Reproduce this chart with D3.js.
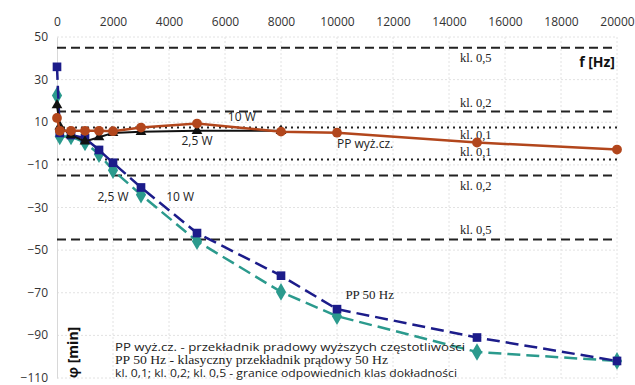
<!DOCTYPE html>
<html>
<head>
<meta charset="utf-8">
<script src="https://cdn.jsdelivr.net/npm/d3@7"></script>
<style>
  body { margin: 0; background: #fff; }
  svg { display: block; }
  .tick text { font-family: "Open Sans", "Liberation Sans", sans-serif; font-size: 12px; fill: #333; }
</style>
</head>
<body>
<div id="chart"></div>
<script>
// frequencies [Hz]
const freq = [0, 100, 500, 1000, 1500, 2000, 3000, 5000, 8000, 10000, 15000, 20000];
// phase error [min]
const hfTen = [12, 6, 6, 6, 6, 5.8, 7.5, 9.4, 5.6, 5.1, 0.5, -2.8];     // PP wyż.cz. 10 W
const hfTwo = [18, 8, 4, 1, 3, 5, 5.5, 6, 6];                           // PP wyż.cz. 2,5 W
const lfTen = [36, 5, 4, 2.5, -3, -9, -20.6, -42, -62, -77.7, -91, -102]; // PP 50 Hz 10 W
const lfTwo = [22.5, 3.3, 3.3, 0.5, -5, -12.5, -24, -45.8, -69.6, -81, -97.8, -102]; // PP 50 Hz 2,5 W

const xTicks = [0, 2000, 4000, 6000, 8000, 10000, 12000, 14000, 16000, 18000, 20000];
const yTicks = [50, 30, 10, -10, -30, -50, -70, -90, -110];
const classLimits = [
  { v: 45, name: "kl. 0,5", dash: "9,5", dy: 14 },
  { v: 15, name: "kl. 0,2", dash: "9,5", dy: -5 },
  { v: 7.5, name: "kl. 0,1", dash: "2,4", dy: 11 },
  { v: -7.5, name: "kl. 0,1", dash: "2,4", dy: -4 },
  { v: -15, name: "kl. 0,2", dash: "9,5", dy: 14 },
  { v: -45, name: "kl. 0,5", dash: "9,5", dy: -5 }
];
const legendLines = [
  "PP wyż.cz. - przekładnik pradowy wyższych częstotliwości",
  "PP 50 Hz - klasyczny przekładnik prądowy 50 Hz",
  "kl. 0,1; kl. 0,2; kl. 0,5 - granice odpowiednich klas dokładności"
];
const legendWidths = [350, 273, 342];

const width = 635, height = 385;
const x = d3.scaleLinear().domain([0, 20000]).range([57, 617]);
const y = d3.scaleLinear().domain([-110, 50]).range([378, 37]);

const svg = d3.select('#chart').append('svg')
    .attr('width', width).attr('height', height);

// grid
svg.append('g').selectAll('line.vg')
    .data(xTicks.slice(1))
    .enter().append('line')
        .attr('x1', d => x(d)).attr('x2', d => x(d))
        .attr('y1', y(50)).attr('y2', y(-110))
        .attr('stroke', '#e2e2e2').attr('stroke-dasharray', '2,2');
svg.append('g').selectAll('line.hg')
    .data(yTicks)
    .enter().append('line')
        .attr('x1', x(0)).attr('x2', x(20000))
        .attr('y1', d => y(d)).attr('y2', d => y(d))
        .attr('stroke', '#e2e2e2').attr('stroke-dasharray', '2,2');

// axes
svg.append('g')
    .attr('transform', 'translate(0,' + y(50) + ')')
    .call(d3.axisTop(x).tickValues(xTicks).tickSize(0).tickPadding(11).tickFormat(d3.format('d')))
    .call(g => g.select('.domain').remove());
svg.append('g')
    .attr('transform', 'translate(' + x(0) + ',0)')
    .call(d3.axisLeft(y).tickValues(yTicks).tickSize(0).tickPadding(9))
    .call(g => g.select('.domain').attr('stroke', '#d8d8d8'))
    .call(g => g.selectAll('.tick text').attr('dy', '0.3em'));

// class limits
svg.append('g').selectAll('line')
    .data(classLimits)
    .enter().append('line')
        .attr('x1', x(0)).attr('x2', x(20000))
        .attr('y1', d => y(d.v)).attr('y2', d => y(d.v))
        .attr('stroke', '#222').attr('stroke-width', 2)
        .attr('stroke-dasharray', d => d.dash);
svg.append('g').selectAll('text')
    .data(classLimits)
    .enter().append('text')
        .attr('x', 460).attr('y', d => y(d.v) + d.dy)
        .attr('font-family', '"Liberation Serif", serif').attr('font-size', 12.5)
        .attr('fill', '#222')
        .text(d => d.name);

const line = d3.line()
    .x(d => x(d[0]))
    .y(d => y(d[1]));

const series = [
  { vals: lfTwo, color: '#2b9a8d', dash: '13,6', shape: d3.symbolDiamond, size: 90, w: 2.5 },
  { vals: lfTen, color: '#1c1c8a', dash: '13,6', shape: d3.symbolSquare, size: 75, w: 2.5 },
  { vals: hfTwo, color: '#111', dash: null, shape: d3.symbolTriangle, size: 50, w: 2 },
  { vals: hfTen, color: '#b2461c', dash: null, shape: d3.symbolCircle, size: 75, w: 2.5 }
];

series.forEach(s => {
  const pts = s.vals.map((v, i) => [freq[i], v]);
  svg.append('path')
      .datum(pts)
      .attr('fill', 'none')
      .attr('stroke', s.color)
      .attr('stroke-width', s.w)
      .attr('stroke-dasharray', s.dash)
      .attr('d', line);
  svg.append('g').selectAll('path')
      .data(pts)
      .enter().append('path')
          .attr('transform', d => 'translate(' + x(d[0]) + ',' + y(d[1]) + ')')
          .attr('d', d3.symbol().type(s.shape).size(s.size))
          .attr('fill', s.color);
});

// annotations
const sans = '"Open Sans", "Liberation Sans", sans-serif';
const notes = [
  { t: '2,5 W', f: 5000, v: -0.5, font: sans, size: 12 },
  { t: '10 W', f: 6600, v: 10.5, font: sans, size: 12 },
  { t: 'PP wyż.cz.', f: 10000, v: -2, font: sans, size: 12 },
  { t: '2,5 W', f: 2000, v: -27, font: sans, size: 12 },
  { t: '10 W', f: 4400, v: -27, font: sans, size: 12 },
  { t: 'PP 50 Hz', f: 10300, v: -73, font: '"Liberation Serif", serif', size: 13 }
];
svg.append('g').selectAll('text')
    .data(notes)
    .enter().append('text')
        .attr('x', d => x(d.f)).attr('y', d => y(d.v))
        .attr('text-anchor', d => d.t === 'PP wyż.cz.' || d.t === 'PP 50 Hz' ? 'start' : 'middle')
        .attr('font-family', d => d.font).attr('font-size', d => d.size)
        .attr('fill', '#222')
        .text(d => d.t);

svg.append('text')
    .attr('x', 615).attr('y', 67)
    .attr('text-anchor', 'end')
    .attr('font-family', sans).attr('font-size', 14).attr('font-weight', 'bold')
    .attr('fill', '#111')
    .text('f [Hz]');

svg.append('text')
    .attr('transform', 'translate(78,378) rotate(-90)')
    .attr('font-family', sans).attr('font-size', 14).attr('font-weight', 'bold')
    .attr('fill', '#111')
    .text('φ [min]');

svg.append('g').selectAll('text')
    .data(legendLines)
    .enter().append('text')
        .attr('x', 115).attr('y', (d, i) => 351 + i * 13)
        .attr('font-family', (d, i) => i === 1 ? '"Liberation Serif", serif' : sans)
        .attr('font-size', 11.5)
        .attr('textLength', (d, i) => legendWidths[i])
        .attr('lengthAdjust', 'spacingAndGlyphs')
        .attr('fill', '#222')
        .text(d => d);
</script>
</body>
</html>
